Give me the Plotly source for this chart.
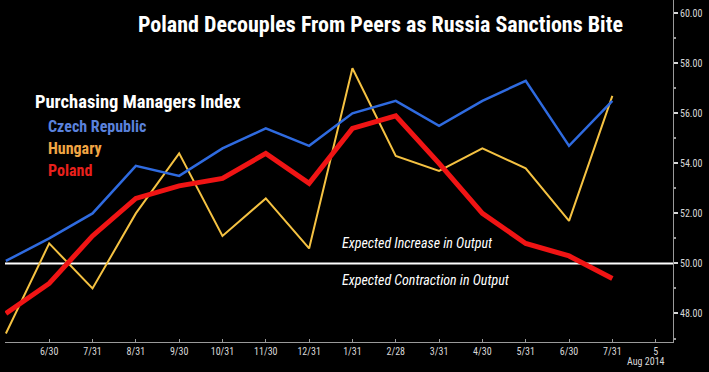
import plotly.graph_objects as go

# Data (monthly PMI, May 2013 - Jul 2014)
months = ["5/31", "6/30", "7/31", "8/31", "9/30", "10/31", "11/30", "12/31",
          "1/31", "2/28", "3/31", "4/30", "5/31", "6/30", "7/31"]
czech = [50.1, 51.0, 52.0, 53.9, 53.5, 54.6, 55.4, 54.7, 56.0, 56.5, 55.5, 56.5, 57.3, 54.7, 56.5]
hungary = [47.2, 50.8, 49.0, 52.0, 54.4, 51.1, 52.6, 50.6, 57.8, 54.3, 53.7, 54.6, 53.8, 51.7, 56.7]
poland = [48.0, 49.2, 51.1, 52.6, 53.1, 53.4, 54.4, 53.2, 55.4, 55.9, 54.0, 52.0, 50.8, 50.3, 49.4]
x_tick_labels = ["6/30", "7/31", "8/31", "9/30", "10/31", "11/30", "12/31",
                 "1/31", "2/28", "3/31", "4/30", "5/31", "6/30", "7/31", "5"]
y_ticks = [48, 50, 52, 54, 56, 58, 60]
y_minor = [47, 49, 51, 53, 55, 57, 59]
threshold = 50

x = list(range(len(months)))
tick_pos = list(range(1, len(x_tick_labels) + 1))

FONT = "Roboto Condensed, Liberation Sans, Arial, sans-serif"

# plot area in pixels: x 5..673, y 0..342
PL, PR, PT, PB = 5, 673, 0, 342


def px(xp):
    return (xp - PL) / (PR - PL)


def py(yp):
    return (PB - yp) / (PB - PT)


fig = go.Figure()
fig.add_trace(go.Scatter(x=x, y=hungary, mode="lines", name="Hungary",
                         line=dict(color="#f5c242", width=2)))
fig.add_trace(go.Scatter(x=x, y=czech, mode="lines", name="Czech Republic",
                         line=dict(color="#2f6be0", width=2.5)))
fig.add_trace(go.Scatter(x=x, y=poland, mode="lines", name="Poland",
                         line=dict(color="#f01414", width=5)))

fig.add_shape(type="line", xref="paper", x0=0, x1=1, yref="y", y0=threshold, y1=threshold,
              line=dict(color="white", width=2), layer="below")

ann = []
ann.append(dict(text="<b>Poland Decouples From Peers as Russia Sanctions Bite</b>",
                xref="paper", yref="paper", x=px(380), y=py(25),
                xanchor="center", yanchor="middle", showarrow=False,
                font=dict(family=FONT, size=22, color="white")))
ann.append(dict(text="<b>Purchasing Managers Index</b>", xref="paper", yref="paper",
                x=px(33), y=py(102), xanchor="left", yanchor="middle", showarrow=False,
                font=dict(family=FONT, size=18.5, color="white")))
for label, col, yy in [("Czech Republic", "#5a82dc", 126), ("Hungary", "#f0a644", 149),
                       ("Poland", "#e8201c", 170)]:
    ann.append(dict(text=f"<b>{label}</b>", xref="paper", yref="paper",
                    x=px(46), y=py(yy), xanchor="left", yanchor="middle",
                    showarrow=False, font=dict(family=FONT, size=16, color=col)))
ann.append(dict(text="<i>Expected Increase in Output</i>", xref="paper", yref="paper",
                x=px(340), y=py(243), xanchor="left", yanchor="middle",
                showarrow=False, font=dict(family=FONT, size=14, color="white")))
ann.append(dict(text="<i>Expected Contraction in Output</i>", xref="paper", yref="paper",
                x=px(340), y=py(280), xanchor="left", yanchor="middle",
                showarrow=False, font=dict(family=FONT, size=14, color="white")))
ann.append(dict(text="Aug 2014", xref="paper", yref="paper",
                x=px(667), y=py(362), xanchor="right", yanchor="middle",
                showarrow=False, font=dict(family=FONT, size=10, color="#d8d8d8")))

fig.update_layout(
    width=709, height=372,
    margin=dict(l=PL, r=709 - PR, t=PT, b=372 - PB),
    paper_bgcolor="black", plot_bgcolor="black",
    showlegend=False,
    annotations=ann,
    xaxis=dict(range=[-0.02, 15.4], tickmode="array", tickvals=tick_pos, ticktext=x_tick_labels,
               showgrid=False, zeroline=False, showline=True, linecolor="#9a9a9a", linewidth=1,
               ticks="inside", ticklen=3, tickcolor="#9a9a9a",
               tickfont=dict(family=FONT, size=10, color="#d8d8d8")),
    yaxis=dict(range=[46.86, 60.53], side="right", tickmode="array", tickvals=y_ticks,
               ticktext=[f"{v:.2f}" for v in y_ticks],
               showgrid=False, zeroline=False, showline=True, linecolor="#9a9a9a", linewidth=1,
               ticks="outside", ticklen=4, tickwidth=2, tickcolor="#d8d8d8",
               minor=dict(tickvals=y_minor, ticks="outside", ticklen=2,
                          tickcolor="#9a9a9a"),
               tickfont=dict(family=FONT, size=10, color="#d8d8d8")),
)

fig.write_html("out.html", config={"displayModeBar": False},
               post_script="document.body.style.margin='0';")
